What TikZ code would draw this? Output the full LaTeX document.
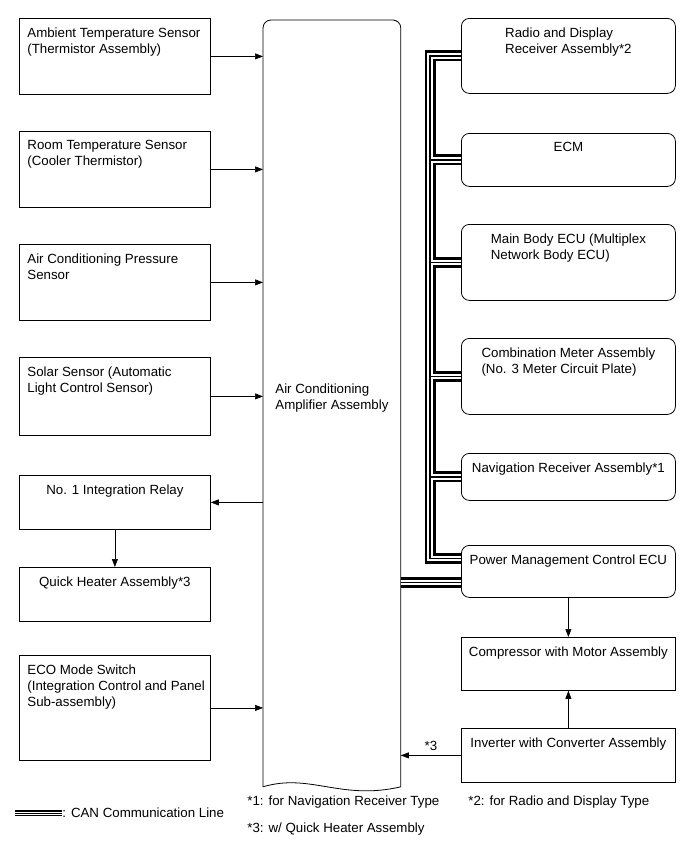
\documentclass[tikz,border=0pt]{standalone}
\usepackage{fontspec}
\setmainfont{Liberation Sans}
\usetikzlibrary{arrows.meta}

\begin{document}
\begin{tikzpicture}[
  x=1pt, y=-1pt,
  font=\fontsize{13.3}{16}\selectfont,
  line width=0.8pt,
  sq/.style={draw, inner sep=0pt, minimum width=191pt, anchor=north west},
  rd/.style={draw, rounded corners=8pt, inner sep=0pt, minimum width=214pt, anchor=north west},
  lbl/.style={align=left, inner sep=0pt},
  lt/.style={label={[lbl, anchor=north west, xshift=8pt, yshift=-9pt]north west:{#1}}},
  ct/.style={label={[lbl, anchor=north, yshift=-9pt]north:{#1}}},
  arr/.style={-{Triangle[length=8pt, width=6pt]}, line width=0.6pt},
  note/.style={inner sep=0pt, anchor=west}
]
  \useasboundingbox (0,0) rectangle (691,854);

  \node[sq, minimum height=76pt, lt={Ambient Temperature Sensor\\(Thermistor Assembly)}] (amb) at (19,18) {};
  \node[sq, minimum height=76pt, lt={Room Temperature Sensor\\(Cooler Thermistor)}] (room) at (19,131) {};
  \node[sq, minimum height=76pt, lt={Air Conditioning Pressure\\Sensor}] (press) at (19,244) {};
  \node[sq, minimum height=78pt, lt={Solar Sensor (Automatic\\Light Control Sensor)}] (solar) at (19,357) {};
  \node[sq, minimum height=54pt, ct={No. 1 Integration Relay}] (relay) at (19,475) {};
  \node[sq, minimum height=54pt, ct={Quick Heater Assembly*3}] (quick) at (19,567) {};
  \node[sq, minimum height=105pt, lt={ECO Mode Switch\\(Integration Control and Panel\\Sub-assembly)}] (eco) at (19,655) {};

  \node[minimum width=137pt, minimum height=766pt, inner sep=0pt, anchor=north west] (amp) at (263,20) {};
  \draw[rounded corners=8pt] (amp.south west) -- (amp.north west) -- (amp.north east) -- (amp.south east);
  \draw (amp.south east) .. controls +(-60,14) and +(47,-14) .. (amp.south west);
  \node[lbl, anchor=west] (amptxt) at (275,398) {Air Conditioning\\Amplifier Assembly};

  \node[rd, minimum height=75pt, ct={Radio and Display\\Receiver Assembly*2}] (radio) at (461,18) {};
  \node[rd, minimum height=53pt, ct={ECM}] (ecm) at (461,133) {};
  \node[rd, minimum height=76pt, ct={Main Body ECU (Multiplex\\Network Body ECU)}] (main) at (461,224) {};
  \node[rd, minimum height=76pt, ct={Combination Meter Assembly\\(No. 3 Meter Circuit Plate)}] (comb) at (461,338) {};
  \node[rd, minimum height=47pt, ct={Navigation Receiver Assembly*1}] (nav) at (461,453) {};
  \node[rd, minimum height=52pt, ct={Power Management Control ECU}] (pmc) at (461,545) {};
  \node[sq, minimum width=214pt, minimum height=53pt, ct={Compressor with Motor Assembly}] (comp) at (461,637) {};
  \node[sq, minimum width=214pt, minimum height=54pt, ct={Inverter with Converter Assembly}] (inv) at (461,728) {};

  \coordinate (bus) at (430,0);
  \coordinate (pmcup) at ([yshift=13pt]pmc.west);
  \coordinate (pmclo) at ([yshift=-11pt]pmc.west);
  \foreach \w/\c in {11pt/black, 5.4pt/white, 1.2pt/black} {
    \draw[line width=\w, draw=\c] (radio.west) -| (bus |- pmcup) -- (pmcup);
    \foreach \n in {ecm, main, comb, nav}
      \draw[line width=\w, draw=\c] (\n.west) -- (\n.west -| bus);
    \draw[line width=\w, draw=\c] (pmclo -| amp.east) -- (pmclo);
  }

  \foreach \n in {amb, room, press, solar, eco}
    \draw[arr] (\n.east) -- (\n.east -| amp.west);
  \draw[arr] (relay.east -| amp.west) -- (relay.east);
  \draw[arr] (relay) -- (quick);
  \draw[arr] (pmc) -- (comp);
  \draw[arr] (inv) -- (comp);
  \draw[arr] (inv.west) -- (inv.west -| amp.east) node[midway, above=4pt, inner sep=0pt] {*3};

  \node[note] (n1) at (247,802) {*1: for Navigation Receiver Type};
  \node[note] (n2) at (468,802) {*2: for Radio and Display Type};
  \node[note] (n3) at (247,829) {*3: w/ Quick Heater Assembly};
  \node[note] (canlbl) at (62,813) {: CAN Communication Line};
  \coordinate (canleg) at (15,813);
  \foreach \w/\c in {5.5pt/black, 3pt/white, 0.9pt/black}
    \draw[line width=\w, draw=\c] (canleg) -- (canlbl.west);
\end{tikzpicture}
\end{document}
